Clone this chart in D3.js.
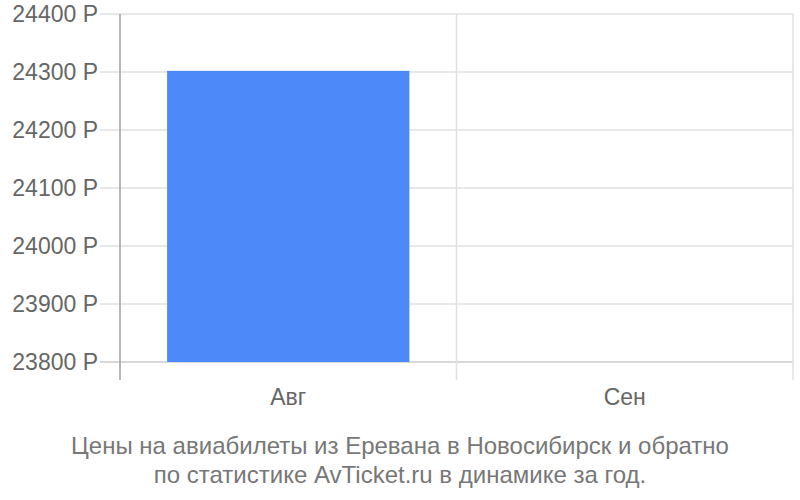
<!DOCTYPE html>
<html><head><meta charset="utf-8">
<script src="https://cdn.jsdelivr.net/npm/d3@7"></script>
<style>body{margin:0;background:#fff}svg{display:block}</style>
</head><body>
<svg id="c" width="800" height="500"></svg>
<script>
const categories = ["Авг", "Сен"];
const values = [24302, null];
const yTicks = [23800, 23900, 24000, 24100, 24200, 24300, 24400];
const titleLines = ["Цены на авиабилеты из Еревана в Новосибирск и обратно", "по статистике AvTicket.ru в динамике за год."];

(function () {
const svg = d3.select("#c");
const font = "'Liberation Sans', Arial, sans-serif";
const pLeft = 120, pRight = 793, pTop = 14, pBottom = 362;
const x = d3.scaleBand().domain(categories).range([pLeft, pRight]).paddingInner(0).paddingOuter(0);
const y = d3.scaleLinear().domain([23800, 24400]).range([pBottom, pTop]);

// horizontal grid
svg.append("g").selectAll("line").data(yTicks).join("line")
  .attr("x1", 100).attr("x2", pRight)
  .attr("y1", d => y(d)).attr("y2", d => y(d))
  .attr("stroke", d => d === 23800 ? "#cccccc" : "#e0e0e0").attr("stroke-width", 1.5);

// vertical grid at band edges
const edges = categories.map(c => x(c)).concat([x(categories[categories.length-1]) + x.bandwidth()]);
svg.append("g").selectAll("line").data(edges).join("line")
  .attr("x1", d => d).attr("x2", d => d)
  .attr("y1", pTop).attr("y2", 380)
  .attr("stroke", (d, i) => i === 0 ? "#a0a0a0" : "#e0e0e0").attr("stroke-width", 1.5);

// bars
const barW = x.bandwidth() * 0.72;
svg.append("g").selectAll("rect").data(categories.map((c, i) => ({c, v: values[i]})).filter(d => d.v != null)).join("rect")
  .attr("x", d => x(d.c) + (x.bandwidth() - barW) / 2)
  .attr("width", barW)
  .attr("y", d => y(d.v))
  .attr("height", d => y(23800) - y(d.v))
  .attr("fill", "#4d89f9");

// y labels
svg.append("g").selectAll("text").data(yTicks).join("text")
  .attr("x", 98).attr("y", d => y(d)).attr("dy", "0.35em")
  .attr("text-anchor", "end").attr("font-family", font).attr("font-size", 23)
  .attr("fill", "#666").text(d => d + " Р");

// x labels
svg.append("g").selectAll("text").data(categories).join("text")
  .attr("x", d => x(d) + x.bandwidth() / 2).attr("y", 405)
  .attr("text-anchor", "middle").attr("font-family", font).attr("font-size", 23)
  .attr("fill", "#666").text(d => d);

// title
svg.append("g").selectAll("text").data(titleLines).join("text")
  .attr("x", 400).attr("y", (d, i) => 454 + i * 29)
  .attr("text-anchor", "middle").attr("font-family", font).attr("font-size", 24)
  .attr("fill", "#777").text(d => d);
})();
</script>
</body></html>
